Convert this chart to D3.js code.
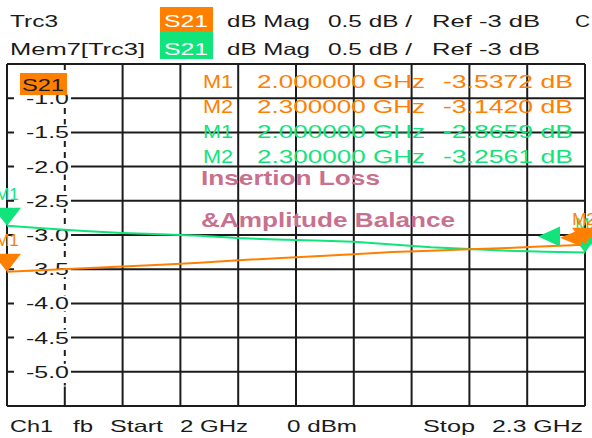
<!DOCTYPE html>
<html>
<head>
<meta charset="utf-8">
<script src="https://cdn.jsdelivr.net/npm/d3@7"></script>
<style>
  html, body { margin: 0; padding: 0; background: #fff; }
  svg { display: block; }
  text { font-family: "Liberation Sans", Arial, sans-serif; }
</style>
</head>
<body>
<div id="chart"></div>
<script>
// ---- data ----
const freqs = [2.00, 2.02, 2.04, 2.06, 2.08, 2.10, 2.12, 2.14, 2.16, 2.18, 2.20, 2.22, 2.24, 2.26, 2.28, 2.30];
const trc3 = [-3.537, -3.51, -3.485, -3.46, -3.435, -3.405, -3.368, -3.34, -3.31, -3.28, -3.25, -3.23, -3.21, -3.19, -3.165, -3.142];
const mem7 = [-2.866, -2.905, -2.94, -2.97, -2.99, -3.01, -3.045, -3.065, -3.08, -3.10, -3.14, -3.18, -3.205, -3.23, -3.245, -3.256];
const yTickValues = [-1.0, -1.5, -2.0, -2.5, -3.0, -3.5, -4.0, -4.5, -5.0];
const markerNames = ["M1", "M2"];
const markerFreqs = [2.0, 2.3];
const markerFreqLabels = ["2.000000 GHz", "2.300000 GHz"];
const trc3Markers = [-3.5372, -3.1420];
const mem7Markers = [-2.8659, -3.2561];
const trc3MarkerLabels = ["-3.5372 dB", "-3.1420 dB"];
const mem7MarkerLabels = ["-2.8659 dB", "-3.2561 dB"];

const W = 592, H = 438;
const ORANGE = "#ff8000", GREEN = "#10e47a", PINK = "#c8708e", GRID = "#1c1c1c";

const svg = d3.select("#chart").append("svg").attr("width", W).attr("height", H);

const x = d3.scaleLinear().domain([2.0, 2.3]).range([7, 585]);
const y = d3.scaleLinear().domain([-5.5, -0.5]).range([406, 64]);

function txt(s, px, py, len, opts = {}) {
  const t = svg.append("text").attr("x", px).attr("y", py).text(s)
    .attr("font-size", opts.size || 16.5)
    .attr("fill", opts.fill || "#1a1a1a");
  if (opts.weight) t.attr("font-weight", opts.weight);
  if (opts.anchor) t.attr("text-anchor", opts.anchor);
  if (len) t.attr("textLength", len).attr("lengthAdjust", "spacingAndGlyphs");
  return t;
}

// ---- header ----
svg.append("rect").attr("x", 160).attr("y", 7).attr("width", 53).attr("height", 25).attr("fill", ORANGE);
svg.append("rect").attr("x", 160).attr("y", 32).attr("width", 53).attr("height", 27).attr("fill", GREEN);
[[27, "Trc3", 48], [55, "Mem7[Trc3]", 135]].forEach(([by, name, len]) => {
  txt(name, 10, by, len);
  txt("S21", 164, by, 44, { fill: "#fff" });
  txt("dB Mag", 227, by, 83);
  txt("0.5 dB /", 328, by, 84);
  txt("Ref -3 dB", 432, by, 108);
});
txt("C", 575, 27, 15);

// ---- grid ----
const xGrid = d3.range(11).map(i => 2.0 + i * 0.03);
const yGrid = d3.range(11).map(j => -5.5 + j * 0.5);
const g = svg.append("g");
g.selectAll("line.h").data(yGrid).join("line")
  .attr("x1", x(2.0)).attr("x2", x(2.3))
  .attr("y1", d => y(d)).attr("y2", d => y(d))
  .attr("stroke", GRID).attr("stroke-width", 2);
g.selectAll("line.v").data(xGrid).join("line")
  .attr("x1", d => x(d)).attr("x2", d => x(d))
  .attr("y1", y(-0.5)).attr("y2", y(-5.5))
  .attr("stroke", GRID).attr("stroke-width", 2);

// label column: white background with dashed vertical gridline
svg.append("rect").attr("x", 14).attr("y", y(-0.5) + 1).attr("width", 56).attr("height", y(-5.2) - y(-0.5))
  .attr("fill", "#fff");
svg.append("line").attr("x1", x(2.03)).attr("x2", x(2.03))
  .attr("y1", y(-0.5)).attr("y2", y(-5.2))
  .attr("stroke", GRID).attr("stroke-width", 2).attr("stroke-dasharray", "6,5");

// y tick labels
yTickValues.forEach(v => {
  svg.append("rect").attr("x", 22).attr("y", y(v) - 8).attr("width", 49).attr("height", 16).attr("fill", "#fff");
  txt(d3.format(".1f")(v).replace("−", "-"), 69, y(v) + 6, 43, { anchor: "end" });
});

// S21 box in plot
svg.append("rect").attr("x", 20).attr("y", 73).attr("width", 47).attr("height", 22).attr("fill", ORANGE);
txt("S21", 22, 91, 42, { fill: "#1a1a1a" });

// ---- marker table ----
const rows = [];
markerNames.forEach((m, i) => rows.push([m, markerFreqLabels[i], trc3MarkerLabels[i], ORANGE]));
markerNames.forEach((m, i) => rows.push([m, markerFreqLabels[i], mem7MarkerLabels[i], GREEN]));
rows.forEach((r, i) => {
  const by = 88 + i * 25;
  txt(r[0], 203, by, 30, { fill: r[3], size: 17.5 });
  txt(r[1], 257, by, 168, { fill: r[3], size: 17.5 });
  txt(r[2], 443, by, 130, { fill: r[3], size: 17.5 });
});

// annotation
txt("Insertion Loss", 201, 185, 179, { fill: PINK, size: 21, weight: "bold" });
txt("&Amplitude Balance", 201, 227, 254, { fill: PINK, size: 21, weight: "bold" });

// ---- traces ----
const line = d3.line().x((d, i) => x(freqs[i])).y(d => y(d)).curve(d3.curveLinear);
svg.append("path").datum(mem7).attr("d", line).attr("fill", "none").attr("stroke", GREEN).attr("stroke-width", 2);
svg.append("path").datum(trc3).attr("d", line).attr("fill", "none").attr("stroke", ORANGE).attr("stroke-width", 2);

// ---- markers ----
function downTri(px, py, w, h) {
  return `M${px - w / 2},${py - h} L${px + w / 2},${py - h} L${px},${py} Z`;
}
function leftTri(px, py, w, h) {
  return `M${px},${py} L${px + w},${py - h / 2} L${px + w},${py + h / 2} Z`;
}
// end-of-sweep pointer triangles
{
  const gx = x(markerFreqs[1]), gy = y(mem7Markers[1]);
  svg.append("path").attr("d", leftTri(gx - 47, gy - 16, 22, 20)).attr("fill", GREEN);
  svg.append("path").attr("d", downTri(gx, gy, 26, 17)).attr("fill", GREEN);
  svg.append("text").attr("x", gx + 2).attr("y", gy - 23).attr("text-anchor", "middle")
    .attr("font-size", 17).attr("fill", GREEN).text(markerNames[1]);
  const ox = x(markerFreqs[1]), oy = y(trc3Markers[1]);
  svg.append("path").attr("d", leftTri(ox - 25, oy - 7, 22, 18)).attr("fill", ORANGE);
  svg.append("path").attr("d", downTri(ox, oy, 26, 17)).attr("fill", ORANGE);
  svg.append("text").attr("x", ox - 1).attr("y", oy - 20).attr("text-anchor", "middle")
    .attr("font-size", 17).attr("fill", ORANGE).text(markerNames[1]);
}
// start markers
[[mem7Markers[0], GREEN], [trc3Markers[0], ORANGE]].forEach(([v, c]) => {
  const px = x(markerFreqs[0]), py = y(v);
  svg.append("path").attr("d", downTri(px, py, 28, 18)).attr("fill", c);
  svg.append("text").attr("x", px).attr("y", py - 26).attr("text-anchor", "middle")
    .attr("font-size", 17).attr("fill", c).text(markerNames[0]);
});

// ---- footer ----
const fy = 432;
txt("Ch1", 10, fy, 43);
txt("fb", 73, fy, 20);
txt("Start", 110, fy, 53);
txt("2 GHz", 180, fy, 68);
txt("0 dBm", 287, fy, 70);
txt("Stop", 423, fy, 52);
txt("2.3 GHz", 492, fy, 91);
</script>
</body>
</html>
